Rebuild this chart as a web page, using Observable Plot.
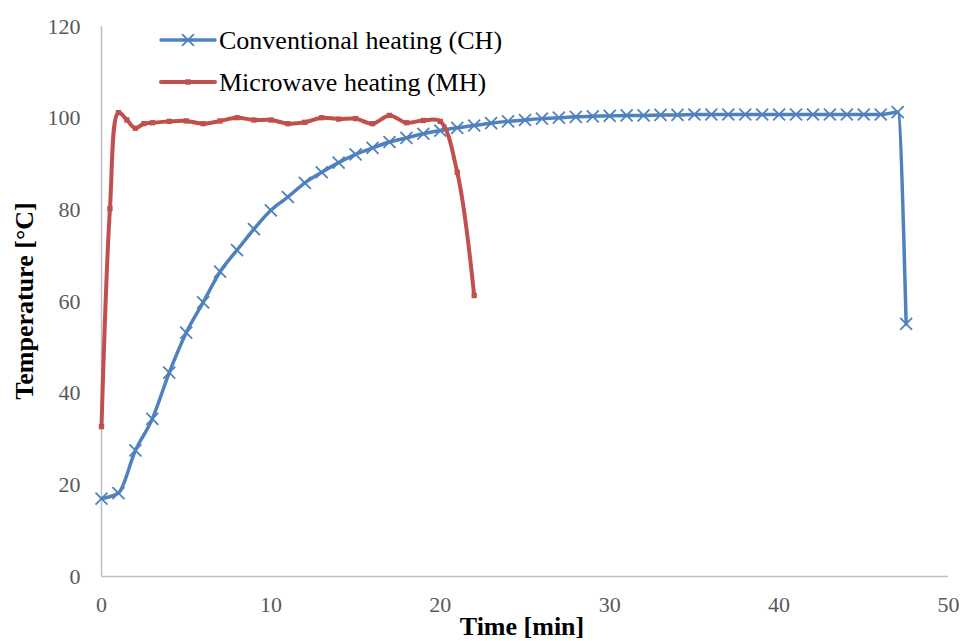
<!DOCTYPE html>
<html><head><meta charset="utf-8">
<script src="https://cdn.jsdelivr.net/npm/d3@7"></script>
<script src="https://cdn.jsdelivr.net/npm/@observablehq/plot@0.6"></script>
<style>body{margin:0;background:#fff} #chart{width:962px;height:641px}</style>
</head><body><div id="chart"></div>
<script>
// Conventional heating (CH)
const chTime = [0,1,2,3,4,5,6,7,8,9,10,11,12,13,14,15,16,17,18,19,20,21,22,23,24,25,26,27,28,29,30,31,32,33,34,35,36,37,38,39,40,41,42,43,44,45,46,47,47.5];
const chTemp = [17.0,18.2,27.5,34.4,44.5,53.2,59.8,66.5,71.2,75.8,79.9,82.8,85.9,88.2,90.3,92.1,93.5,94.8,95.7,96.6,97.3,97.9,98.4,98.9,99.3,99.6,99.9,100.1,100.3,100.4,100.5,100.6,100.6,100.7,100.7,100.8,100.8,100.8,100.8,100.8,100.8,100.8,100.8,100.8,100.8,100.8,100.8,101.3,55.1];
// Microwave heating (MH)
const mhTime = [0,0.5,1,1.5,2,2.5,3,4,5,6,7,8,9,10,11,12,13,14,15,16,17,18,19,20,21,22];
const mhTemp = [32.7,80.3,101.2,99.6,97.8,98.8,99.0,99.3,99.4,98.8,99.4,100.1,99.6,99.6,98.8,99.1,100.1,99.8,99.9,98.8,100.6,99.0,99.5,99.3,88.2,61.3];

const xTicks = [0,10,20,30,40,50];
const yTicks = [0,20,40,60,80,100,120];
const seriesNames = ["Conventional heating (CH)", "Microwave heating (MH)"];
const seriesColors = ["#4F81BD", "#C0504D"];
const xTitle = "Time [min]";
const yTitle = "Temperature [°C]";

const ch = chTime.map((t, i) => ({t, v: chTemp[i]}));
const mh = mhTime.map((t, i) => ({t, v: mhTemp[i]}));

const svg = Plot.plot({
  width: 962, height: 641,
  marginLeft: 101, marginRight: 14, marginTop: 26, marginBottom: 65,
  x: {domain: [0, 50]},
  y: {domain: [0, 120]},
  style: {fontFamily: "'Liberation Serif', 'Times New Roman', serif", fontSize: "22px", color: "#595959", background: "#fff", overflow: "visible"},
  marks: [
    Plot.axisX({ticks: xTicks, tickSize: 0, tickPadding: 20, label: null, fontSize: 22}),
    Plot.axisY({ticks: yTicks, tickSize: 0, tickPadding: 21, label: null, fontSize: 22}),
    Plot.ruleX([0], {stroke: "#BFBFBF", strokeWidth: 1.5}),
    Plot.ruleY([0], {stroke: "#BFBFBF", strokeWidth: 1.5}),
    Plot.line(ch, {x: "t", y: "v", stroke: seriesColors[0], strokeWidth: 3.5, curve: "monotone-x"}),
    Plot.dot(ch, {x: "t", y: "v", symbol: "times", r: 5.5, stroke: seriesColors[0], strokeWidth: 1.8}),
    Plot.line(mh, {x: "t", y: "v", stroke: seriesColors[1], strokeWidth: 4, curve: "catmull-rom"}),
    Plot.dot(mh, {x: "t", y: "v", symbol: "square", r: 3, fill: seriesColors[1], stroke: "none"})
  ]
});

const s = d3.select(svg);
// axis titles
s.append("text")
  .attr("transform", "translate(24,301) rotate(-90)")
  .attr("text-anchor", "middle").attr("dy", "0.35em")
  .attr("fill", "#000").attr("font-weight", "bold").attr("font-size", 26)
  .text(yTitle);
s.append("text")
  .attr("x", 522).attr("y", 635)
  .attr("text-anchor", "middle")
  .attr("fill", "#000").attr("font-weight", "bold").attr("font-size", 26)
  .text(xTitle);

// legend
const legY = [40, 82];
const lg = s.append("g").attr("text-anchor", "start");
seriesNames.forEach((name, i) => {
  const y = legY[i];
  lg.append("line").attr("x1", 161).attr("x2", 215).attr("y1", y).attr("y2", y)
    .attr("stroke", seriesColors[i]).attr("stroke-width", i === 0 ? 3.5 : 4).attr("stroke-linecap", "round");
  if (i === 0) {
    lg.append("path").attr("d", d3.symbol(d3.symbolTimes, Math.PI * 5.5 * 5.5)())
      .attr("transform", `translate(188,${y})`).attr("fill", "none")
      .attr("stroke", seriesColors[i]).attr("stroke-width", 1.8);
  } else {
    lg.append("rect").attr("x", 188 - 2.7).attr("y", y - 2.7).attr("width", 5.4).attr("height", 5.4)
      .attr("fill", seriesColors[i]);
  }
  lg.append("text").attr("x", 219).attr("y", y).attr("dy", "0.35em")
    .attr("text-anchor", "start")
    .attr("fill", "#000").attr("font-size", 26).text(name);
});

document.getElementById("chart").appendChild(svg);
</script>
</body></html>
